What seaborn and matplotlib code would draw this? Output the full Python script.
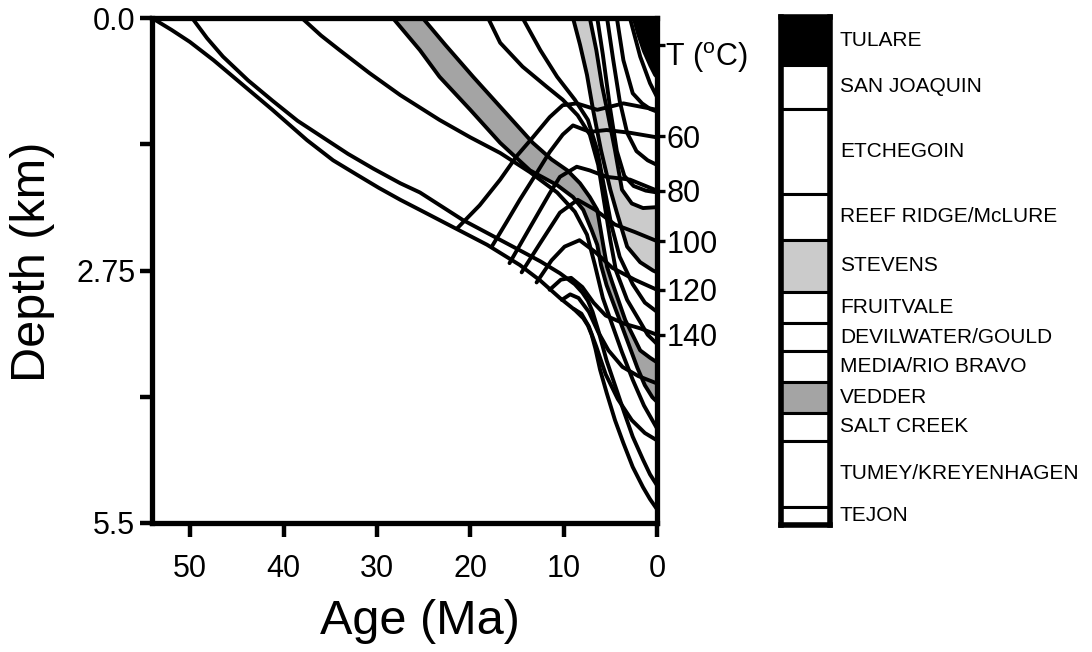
import numpy as np
import pandas as pd
import matplotlib
matplotlib.use("Agg")
import matplotlib.pyplot as plt
import matplotlib.transforms as mtransforms
import seaborn as sns

sns.set_theme(style="white")
plt.rcParams["font.family"] = ["Liberation Sans", "DejaVu Sans"]
plt.rcParams["mathtext.fontset"] = "custom"
plt.rcParams["mathtext.rm"] = "Liberation Sans"
for key in ["text.color", "axes.labelcolor", "xtick.color", "ytick.color", "axes.edgecolor"]:
    plt.rcParams[key] = "black"

# burial curves of the horizon tops (age in Ma, depth in km), oldest first
h1_age = [54.1, 52.0, 50.05, 47.5, 44.7, 41.2, 37.5, 34.7, 32.1, 29.8, 27.5, 25.4, 21.8, 18.2, 14.7,
          12.5, 10.4, 8.8, 7.9, 7.4, 7.0, 6.6, 6.1, 5.4, 4.5, 3.6, 2.6, 1.5, 0.75, 0]
h1_depth = [0, 0.13, 0.26, 0.46, 0.7, 1.0, 1.33, 1.55, 1.71, 1.85, 1.98, 2.09, 2.28, 2.47, 2.69,
            2.86, 3.05, 3.18, 3.27, 3.35, 3.45, 3.6, 3.83, 4.08, 4.38, 4.63, 4.89, 5.11, 5.24, 5.35]
h2_age = [49.8, 48.2, 46.5, 43.8, 41.2, 38.5, 35.8, 33.1, 30.4, 27.5, 25.4, 20.8, 14.7, 12.5, 10.4,
          8.8, 8.0, 7.4, 6.9, 6.3, 5.4, 4.5, 3.5, 2.6, 1.5, 0.75, 0]
h2_depth = [0, 0.22, 0.42, 0.68, 0.9, 1.12, 1.3, 1.48, 1.64, 1.8, 1.9, 2.2, 2.53, 2.65, 2.78,
            2.9, 2.99, 3.08, 3.2, 3.4, 3.73, 4.0, 4.3, 4.56, 4.81, 4.97, 5.09]
h3_age = [38.05, 36.0, 34.0, 30.8, 27.5, 23.3, 20.0, 16.8, 13.6, 10.7, 8.8, 7.5, 6.65, 5.8, 4.8,
          3.75, 2.6, 1.4, 0]
h3_depth = [0, 0.19, 0.35, 0.6, 0.84, 1.11, 1.3, 1.47, 1.68, 1.9, 2.11, 2.36, 2.69, 3.05, 3.34,
            3.64, 3.94, 4.22, 4.47]
h4_age = [28.3, 25.4, 23.3, 20.0, 16.8, 13.6, 10.7, 9.0, 7.9, 7.0, 6.4, 6.0, 5.4, 4.0, 2.9, 2.1,
          1.3, 0.5, 0]
h4_depth = [0, 0.35, 0.64, 1.0, 1.36, 1.66, 1.82, 1.95, 2.09, 2.31, 2.47, 2.69, 2.91, 3.29, 3.59,
            3.81, 4.0, 4.13, 4.18]
h5_age = [25.1, 22.7, 19.7, 16.5, 13.3, 11.3, 9.6, 8.25, 7.2, 6.4, 5.8, 5.35, 4.8, 3.4, 1.8, 0.75, 0]
h5_depth = [0, 0.29, 0.64, 1.0, 1.36, 1.54, 1.66, 1.8, 1.95, 2.09, 2.45, 2.71, 2.88, 3.29, 3.62,
            3.7, 3.75]
h6_age = [18.1, 16.8, 14.4, 11.8, 10.1, 8.5, 7.2, 6.3, 5.7, 5.0, 4.4, 3.2, 1.8, 1.0, 0]
h6_depth = [0, 0.27, 0.53, 0.75, 0.89, 1.06, 1.27, 1.6, 1.98, 2.42, 2.75, 3.07, 3.31, 3.45, 3.55]
h7_age = [14.4, 12.5, 10.7, 8.8, 7.4, 6.4, 5.7, 4.9, 4.0, 2.6, 1.3, 0]
h7_depth = [0, 0.35, 0.64, 0.89, 1.11, 1.44, 1.82, 2.25, 2.6, 2.9, 3.1, 3.2]
h8_age = [9.0, 8.25, 7.5, 6.85, 6.0, 5.0, 4.3, 3.2, 1.8, 0.43, 0]
h8_depth = [0, 0.29, 0.62, 1.0, 1.44, 1.87, 2.12, 2.49, 2.66, 2.75, 2.77]
h9_age = [7.2, 6.5, 5.9, 5.35, 4.5, 3.75, 2.7, 1.5, 0]
h9_depth = [0, 0.35, 0.73, 1.0, 1.44, 1.87, 2.02, 2.07, 2.06]
h10_age = [6.4, 5.8, 5.0, 4.3, 3.5, 2.5, 1.2, 0]
h10_depth = [0, 0.4, 1.0, 1.45, 1.72, 1.83, 1.88, 1.9]
h11_age = [5.35, 4.7, 4.0, 3.2, 2.2, 1.0, 0]
h11_depth = [0, 0.45, 0.9, 1.25, 1.45, 1.55, 1.6]
h12_age = [4.3, 3.6, 2.6, 1.6, 0.75, 0]
h12_depth = [0, 0.46, 0.82, 0.93, 0.99, 1.02]
h13_age = [2.9, 1.8, 0.75, 0]
h13_depth = [0, 0.42, 0.71, 0.86]
h14_age = [2.5, 2.0, 1.4, 0.7, 0.2, 0]
h14_depth = [0, 0.18, 0.36, 0.52, 0.62, 0.64]

# isotherms (age in Ma, depth in km)
t40_age = [21.4, 19.0, 16.8, 15.0, 13.3, 11.5, 10.1, 8.6, 6.4, 3.6, 0]
t40_depth = [2.29, 2.04, 1.76, 1.5, 1.3, 1.08, 0.95, 0.93, 1.0, 0.93, 1.0]
t60_age = [17.7, 16.1, 14.7, 12.9, 11.5, 10.1, 9.0, 7.2, 5.4, 2.9, 0]
t60_depth = [2.49, 2.22, 1.98, 1.69, 1.46, 1.27, 1.17, 1.24, 1.22, 1.25, 1.3]
t80_age = [15.8, 13.6, 11.5, 10.4, 8.6, 7.2, 5.4, 2.9, 0]
t80_depth = [2.67, 2.28, 1.91, 1.73, 1.62, 1.66, 1.73, 1.76, 1.88]
t100_age = [14.5, 12.5, 10.4, 8.5, 6.6, 4.5, 2.4, 0]
t100_depth = [2.77, 2.45, 2.12, 1.98, 2.09, 2.25, 2.33, 2.43]
t120_age = [12.9, 11.3, 9.9, 8.3, 6.6, 4.8, 2.4, 0]
t120_depth = [2.88, 2.64, 2.49, 2.42, 2.55, 2.72, 2.85, 2.96]
t140_age = [11.5, 10.3, 9.2, 8.0, 6.8, 5.5, 3.5, 1.8, 0]
t140_depth = [2.96, 2.85, 2.83, 2.93, 3.1, 3.24, 3.33, 3.38, 3.45]
t160_age = [10.2, 9.3, 8.4, 7.3, 6.3, 5.2, 3.7, 2.0, 0]
t160_depth = [3.07, 3.01, 3.05, 3.2, 3.42, 3.62, 3.8, 3.9, 3.98]
t180_age = [8.9, 8.1, 7.3, 6.5, 5.5, 4.2, 2.7, 1.3, 0]
t180_depth = [3.17, 3.22, 3.36, 3.58, 3.88, 4.15, 4.38, 4.52, 4.6]

# present-day temperature marks on the right-hand axis
temp_tick_depth = [0.29, 1.29, 1.88, 2.43, 2.96, 3.45]
temp_tick_label = ["", "60", "80", "100", "120", "140"]

# stratigraphic column (km)
unit_names = ["TULARE", "SAN JOAQUIN", "ETCHEGOIN", "REEF RIDGE/McLURE", "STEVENS",
              "FRUITVALE", "DEVILWATER/GOULD", "MEDIA/RIO BRAVO", "VEDDER",
              "SALT CREEK", "TUMEY/KREYENHAGEN", "TEJON"]
unit_top = [0, 0.52, 1.0, 1.92, 2.42, 2.99, 3.33, 3.63, 3.97, 4.3, 4.61, 5.32]
unit_base = [0.52, 1.0, 1.92, 2.42, 2.99, 3.33, 3.63, 3.97, 4.3, 4.61, 5.32, 5.52]
unit_fill = ["black", "white", "white", "white", "#cbcbcb", "white", "white",
             "white", "#a4a4a4", "white", "white", "white"]

curves = {
    "h1": (h1_age, h1_depth), "h2": (h2_age, h2_depth), "h3": (h3_age, h3_depth),
    "h4": (h4_age, h4_depth), "h5": (h5_age, h5_depth), "h6": (h6_age, h6_depth),
    "h7": (h7_age, h7_depth), "h8": (h8_age, h8_depth), "h9": (h9_age, h9_depth),
    "h10": (h10_age, h10_depth), "h11": (h11_age, h11_depth), "h12": (h12_age, h12_depth),
    "h13": (h13_age, h13_depth), "h14": (h14_age, h14_depth),
    "t40": (t40_age, t40_depth), "t60": (t60_age, t60_depth), "t80": (t80_age, t80_depth),
    "t100": (t100_age, t100_depth), "t120": (t120_age, t120_depth),
    "t140": (t140_age, t140_depth), "t160": (t160_age, t160_depth),
    "t180": (t180_age, t180_depth),
}
rows = []
for name, (a, d) in curves.items():
    for x, y in zip(a, d):
        rows.append({"curve": name, "age": x, "depth": y})
df = pd.DataFrame(rows)

fig = plt.figure(figsize=(10.92, 6.52), dpi=100)
ax = fig.add_axes([152 / 1092, 1 - 523 / 652, 505 / 1092, 505 / 652])

# shaded units
ax.fill(h4_age + h5_age[::-1], h4_depth + h5_depth[::-1], color="#a4a4a4", lw=0, zorder=1)
ax.fill(h8_age + h9_age[::-1], h8_depth + h9_depth[::-1], color="#cbcbcb", lw=0, zorder=1)
ax.fill(h14_age + [0], h14_depth + [0], color="black", lw=0, zorder=1)

sns.lineplot(data=df, x="age", y="depth", units="curve", estimator=None, sort=False,
             color="black", linewidth=2.8, legend=False, ax=ax, zorder=2)
for ln in ax.lines:
    ln.set_solid_joinstyle("round")
    ln.set_solid_capstyle("round")

ax.set_xlim(54.1, 0)
ax.set_ylim(5.5, 0)
ax.set_xticks([50, 40, 30, 20, 10, 0])
ax.set_xticklabels(["50", "40", "30", "20", "10", "0"])
ax.set_yticks([0, 2.75, 5.5])
ax.set_yticklabels(["0.0", "2.75", "5.5"])
ax.set_yticks([1.375, 4.125], minor=True)
ax.tick_params(axis="x", which="major", direction="out", length=10, width=3.2,
               labelsize=22, pad=12, bottom=True)
ax.tick_params(axis="y", which="both", direction="out", length=9, width=3.2,
               labelsize=22, pad=3, left=True)
for s in ax.spines.values():
    s.set_linewidth(3.8)
    s.set_zorder(5)
ax.set_xlabel("")
ax.set_ylabel("")
fig.text(420 / 1092, 1 - 622 / 652, "Age (Ma)", fontsize=35, ha="center", va="center")
fig.text(33 / 1092, 1 - 262 / 652, "Depth (km)", fontsize=35, ha="center", va="center",
         rotation=90)

# temperature axis on the right
ax2 = ax.twinx()
ax2.set_ylim(5.5, 0)
ax2.set_yticks(temp_tick_depth)
ax2.set_yticklabels(temp_tick_label)
ax2.tick_params(axis="y", direction="out", length=6, width=2.4, labelsize=22, pad=1, right=True)
for s in ax2.spines.values():
    s.set_visible(False)
trans = mtransforms.blended_transform_factory(ax.transAxes, ax.transData)
ax.text(1.016, 0.43, r"T ($^{\rm o}$C)", transform=trans, fontsize=22,
        ha="left", va="center")

# stratigraphic column legend
axl = fig.add_axes([781 / 1092, 1 - 525 / 652, 49 / 1092, 508 / 652])
ltrans = mtransforms.blended_transform_factory(axl.transAxes, axl.transData)
for name, top, base, fc in zip(unit_names, unit_top, unit_base, unit_fill):
    axl.bar(0.5, base - top, bottom=top, width=1.0, color=fc, edgecolor="black", linewidth=2.2)
    axl.text(1.2, (top + base) / 2, name, fontsize=15, ha="left", va="center", transform=ltrans)
axl.set_xlim(0, 1)
axl.set_ylim(unit_base[-1], 0)
axl.set_xticks([])
axl.set_yticks([])
for s in axl.spines.values():
    s.set_linewidth(4)

fig.savefig("out.png", dpi=100)
plt.close(fig)
